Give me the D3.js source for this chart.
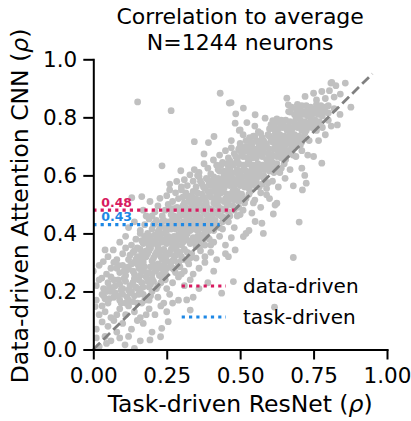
<!DOCTYPE html>
<html>
<head>
<meta charset="utf-8">
<script src="https://cdn.jsdelivr.net/npm/d3@7"></script>
<style>
    body { margin: 0; background: #fff; }
    svg { font-family: "DejaVu Sans", sans-serif; }
</style>
</head>
<body>
<svg id="svg4Scatter"></svg>
<script>
// neurons: [task-driven ResNet rho, data-driven attention CNN rho]
var neuronsLow = [
    [0.02,0.01],[0.045,0.021],[0.108,0.016],[0.14,0.004],[0.193,0.033],[0.229,0.044],[0.04,0.045],[0.09,0.04],[0.16,0.03],[0.06,0.03],[0.12,0.045],[0.01,0.04],
    [0.01,0.07],[0.05,0.08],[0.08,0.06],[0.13,0.07],[0.17,0.09],[0.233,0.073],[0.03,0.095],[0.1,0.09],[0.2,0.06],[0.15,0.1],[0.07,0.1],[0.255,0.096],
    [0.006,0.148],[0.02,0.12],[0.04,0.13],[0.06,0.11],[0.09,0.14],[0.11,0.12],[0.14,0.13],[0.16,0.11],[0.19,0.14],[0.21,0.12],[0.25,0.13],[0.03,0.15],[0.08,0.12],[0.12,0.15],[0.18,0.12],[0.23,0.15],[0.33,0.136],[0.617,0.146],
    [0.01,0.17],[0.03,0.19],[0.05,0.16],[0.07,0.18],[0.09,0.17],[0.1,0.19],[0.12,0.17],[0.13,0.2],[0.15,0.16],[0.17,0.19],[0.19,0.17],[0.2,0.2],[0.22,0.18],[0.24,0.16],[0.26,0.19],[0.29,0.17],[0.318,0.171],[0.06,0.2],[0.11,0.16],[0.14,0.185],[0.16,0.2],[0.437,0.194],[0.04,0.175],[0.27,0.16],[0.34,0.18],
    [0.01,0.22],[0.02,0.24],[0.035,0.21],[0.05,0.23],[0.06,0.25],[0.075,0.22],[0.085,0.24],[0.1,0.21],[0.11,0.235],[0.125,0.22],[0.14,0.245],[0.15,0.21],[0.165,0.23],[0.18,0.25],[0.19,0.215],[0.205,0.235],[0.22,0.22],[0.235,0.245],[0.25,0.21],[0.27,0.23],[0.29,0.25],[0.31,0.22],[0.33,0.24],[0.36,0.21],[0.39,0.23],[0.477,0.234],[0.029,0.246],
    [0.0,0.27],[0.02,0.29],[0.034,0.303],[0.045,0.26],[0.06,0.28],[0.07,0.3],[0.09,0.265],[0.1,0.29],[0.115,0.275],[0.13,0.295],[0.14,0.26],[0.155,0.28],[0.17,0.3],[0.18,0.265],[0.195,0.285],[0.21,0.27],[0.22,0.295],[0.235,0.26],[0.25,0.28],[0.265,0.3],[0.28,0.265],[0.295,0.285],[0.31,0.27],[0.325,0.295],[0.34,0.26],[0.36,0.28],[0.38,0.3],[0.41,0.27],[0.08,0.28],[0.16,0.29],[0.2,0.26],[0.24,0.29],[0.27,0.28]
];
var neuronsMid = [
    [0.04,0.343],[0.068,0.343],[0.05,0.32],[0.08,0.31],[0.1,0.33],[0.11,0.35],[0.12,0.31],[0.135,0.335],[0.15,0.32],[0.16,0.345],[0.17,0.31],[0.185,0.33],[0.195,0.35],[0.205,0.315],[0.215,0.335],[0.23,0.32],[0.24,0.345],[0.25,0.305],[0.26,0.33],[0.275,0.315],[0.285,0.34],[0.3,0.32],[0.31,0.345],[0.32,0.305],[0.335,0.33],[0.35,0.315],[0.365,0.34],[0.38,0.32],[0.4,0.335],[0.42,0.31],[0.45,0.33],[0.681,0.317],[0.14,0.3],[0.22,0.35],[0.29,0.3],[0.18,0.34],[0.483,0.343],[0.46,0.32],
    [0.09,0.37],[0.11,0.39],[0.13,0.36],[0.145,0.38],[0.16,0.4],[0.17,0.365],[0.18,0.385],[0.19,0.355],[0.2,0.375],[0.21,0.395],[0.22,0.36],[0.23,0.38],[0.24,0.4],[0.25,0.365],[0.26,0.385],[0.27,0.355],[0.28,0.375],[0.29,0.395],[0.3,0.36],[0.31,0.38],[0.32,0.4],[0.33,0.365],[0.34,0.385],[0.35,0.355],[0.36,0.375],[0.37,0.395],[0.38,0.36],[0.395,0.38],[0.41,0.37],[0.43,0.39],[0.45,0.36],[0.47,0.385],[0.511,0.389],[0.15,0.35],[0.245,0.38],[0.305,0.39],[0.579,0.4],[0.52,0.4],
    [0.12,0.42],[0.14,0.44],[0.16,0.41],[0.175,0.43],[0.19,0.45],[0.2,0.415],[0.21,0.435],[0.22,0.405],[0.23,0.425],[0.24,0.445],[0.25,0.41],[0.26,0.43],[0.27,0.45],[0.28,0.415],[0.29,0.435],[0.3,0.405],[0.31,0.425],[0.32,0.445],[0.33,0.41],[0.34,0.43],[0.35,0.45],[0.36,0.415],[0.37,0.435],[0.38,0.405],[0.39,0.425],[0.4,0.445],[0.41,0.41],[0.42,0.43],[0.44,0.415],[0.46,0.44],[0.48,0.42],[0.574,0.435],[0.701,0.439],[0.53,0.41],[0.185,0.4],[0.265,0.44],[0.355,0.43],[0.551,0.441],
    [0.2,0.46],[0.21,0.475],[0.22,0.495],[0.235,0.46],[0.245,0.48],[0.255,0.5],[0.265,0.465],[0.275,0.485],[0.285,0.455],[0.295,0.475],[0.305,0.495],[0.315,0.46],[0.325,0.48],[0.335,0.5],[0.345,0.465],[0.355,0.485],[0.365,0.455],[0.375,0.475],[0.385,0.495],[0.395,0.46],[0.405,0.48],[0.415,0.5],[0.425,0.465],[0.435,0.485],[0.445,0.455],[0.46,0.475],[0.475,0.495],[0.49,0.46],[0.51,0.48],[0.54,0.47],[0.57,0.49],[0.625,0.504],[0.18,0.46],[0.613,0.467],[0.619,0.498],[0.17,0.48],
    [0.131,0.523],[0.165,0.527],[0.193,0.51],[0.227,0.521],[0.25,0.53],[0.27,0.51],[0.28,0.54],[0.29,0.52],[0.3,0.55],[0.31,0.505],[0.32,0.53],[0.33,0.515],[0.34,0.545],[0.35,0.52],[0.36,0.505],[0.37,0.535],[0.38,0.515],[0.39,0.545],[0.4,0.525],[0.41,0.505],[0.42,0.535],[0.43,0.515],[0.44,0.545],[0.45,0.52],[0.46,0.505],[0.47,0.535],[0.48,0.515],[0.49,0.545],[0.5,0.52],[0.515,0.505],[0.53,0.535],[0.55,0.515],[0.57,0.54],[0.6,0.52],[0.26,0.55],[0.345,0.5],[0.425,0.55],[0.59,0.533]
];
var neuronsHigh = [
    [0.284,0.579],[0.329,0.602],[0.26,0.57],[0.3,0.56],[0.31,0.585],[0.32,0.565],[0.34,0.58],[0.35,0.56],[0.36,0.595],[0.37,0.57],[0.38,0.555],[0.39,0.585],[0.4,0.565],[0.41,0.595],[0.42,0.575],[0.43,0.555],[0.44,0.585],[0.45,0.565],[0.46,0.595],[0.47,0.575],[0.48,0.555],[0.49,0.585],[0.5,0.565],[0.51,0.595],[0.52,0.575],[0.53,0.555],[0.54,0.585],[0.55,0.565],[0.56,0.595],[0.575,0.57],[0.59,0.555],[0.61,0.58],[0.63,0.56],[0.681,0.564],[0.725,0.573],[0.355,0.6],[0.445,0.6],[0.72,0.6],[0.712,0.55],[0.653,0.59],
    [0.234,0.633],[0.298,0.616],[0.344,0.62],[0.377,0.64],[0.409,0.653],[0.36,0.61],[0.39,0.625],[0.4,0.605],[0.42,0.635],[0.43,0.615],[0.44,0.645],[0.45,0.61],[0.46,0.63],[0.47,0.605],[0.48,0.64],[0.49,0.62],[0.5,0.6],[0.51,0.635],[0.52,0.615],[0.53,0.645],[0.54,0.625],[0.55,0.605],[0.56,0.64],[0.57,0.62],[0.58,0.6],[0.59,0.635],[0.6,0.615],[0.61,0.645],[0.62,0.625],[0.635,0.61],[0.65,0.64],[0.67,0.62],[0.71,0.625],[0.778,0.642],[0.75,0.665],[0.465,0.65],[0.525,0.6],
    [0.377,0.674],[0.392,0.713],[0.344,0.716],[0.43,0.67],[0.45,0.685],[0.46,0.66],[0.47,0.695],[0.48,0.675],[0.49,0.655],[0.5,0.685],[0.51,0.665],[0.52,0.7],[0.53,0.68],[0.54,0.66],[0.55,0.69],[0.56,0.67],[0.57,0.7],[0.58,0.68],[0.59,0.655],[0.6,0.69],[0.61,0.67],[0.62,0.7],[0.63,0.68],[0.64,0.66],[0.65,0.69],[0.66,0.67],[0.675,0.695],[0.69,0.665],[0.71,0.685],[0.73,0.67],[0.5,0.7],
    [0.411,0.734],[0.532,0.73],[0.497,0.755],[0.47,0.72],[0.5,0.71],[0.51,0.74],[0.52,0.72],[0.54,0.705],[0.55,0.735],[0.56,0.715],[0.57,0.745],[0.58,0.72],[0.59,0.705],[0.6,0.735],[0.61,0.715],[0.62,0.745],[0.63,0.725],[0.64,0.705],[0.65,0.735],[0.66,0.715],[0.67,0.745],[0.68,0.725],[0.69,0.705],[0.7,0.735],[0.71,0.715],[0.72,0.745],[0.735,0.72],[0.767,0.72],[0.562,0.751],[0.79,0.74],
    [0.5,0.757],[0.483,0.78],[0.523,0.782],[0.585,0.797],[0.611,0.789],[0.831,0.774],[0.55,0.77],[0.6,0.76],[0.62,0.78],[0.63,0.76],[0.64,0.79],[0.65,0.77],[0.66,0.755],[0.67,0.785],[0.68,0.765],[0.69,0.795],[0.7,0.775],[0.71,0.755],[0.72,0.785],[0.73,0.765],[0.74,0.795],[0.75,0.775],[0.76,0.755],[0.77,0.785],[0.78,0.765],[0.8,0.79],[0.81,0.77],
    [0.485,0.812],[0.511,0.832],[0.551,0.809],[0.664,0.843],[0.67,0.818],[0.877,0.835],[0.69,0.83],[0.7,0.81],[0.71,0.84],[0.72,0.82],[0.73,0.805],[0.74,0.835],[0.75,0.815],[0.76,0.845],[0.77,0.825],[0.78,0.805],[0.79,0.835],[0.8,0.815],[0.82,0.83],[0.84,0.81],[0.463,0.849],[0.265,0.823],
    [0.151,0.853],[0.432,0.883],[0.469,0.851],[0.659,0.866],[0.721,0.872],[0.75,0.883],[0.778,0.889],[0.804,0.892],[0.809,0.918],[0.826,0.909],[0.858,0.918],[0.841,0.88],[0.812,0.92],[0.76,0.86],[0.79,0.865],[0.82,0.87]
];
// the solid band along the diagonal
var neuronsCore = [
    [0.035,0.185],[0.055,0.175],[0.075,0.195],[0.095,0.16],[0.115,0.18],[0.135,0.165],[0.155,0.19],[0.175,0.17],[0.195,0.185],[0.045,0.2],[0.085,0.185],[0.125,0.195],[0.165,0.16],
    [0.055,0.215],[0.07,0.24],[0.09,0.225],[0.105,0.245],[0.12,0.205],[0.135,0.23],[0.155,0.24],[0.17,0.215],[0.185,0.235],[0.2,0.245],[0.215,0.21],[0.23,0.23],[0.245,0.24],[0.065,0.205],[0.095,0.205],[0.145,0.215],[0.195,0.225],
    [0.085,0.29],[0.105,0.27],[0.12,0.285],[0.135,0.27],[0.15,0.295],[0.165,0.27],[0.175,0.285],[0.19,0.265],[0.205,0.29],[0.215,0.275],[0.23,0.28],[0.245,0.265],[0.26,0.285],[0.275,0.275],[0.29,0.295],[0.3,0.26],[0.11,0.255],[0.16,0.255],[0.225,0.255],
    [0.125,0.325],[0.14,0.34],[0.155,0.31],[0.165,0.33],[0.18,0.32],[0.19,0.34],[0.2,0.305],[0.21,0.325],[0.225,0.335],[0.235,0.31],[0.25,0.325],[0.265,0.345],[0.27,0.305],[0.28,0.325],[0.295,0.335],[0.305,0.31],[0.32,0.335],[0.33,0.315],[0.145,0.31],[0.245,0.335],
    [0.165,0.375],[0.175,0.39],[0.185,0.37],[0.195,0.39],[0.205,0.365],[0.215,0.38],[0.225,0.39],[0.235,0.37],[0.255,0.39],[0.265,0.37],[0.275,0.39],[0.285,0.36],[0.295,0.38],[0.305,0.37],[0.315,0.39],[0.325,0.375],[0.345,0.37],[0.355,0.39],[0.365,0.36],[0.375,0.38],[0.385,0.39],[0.4,0.36],
    [0.205,0.43],[0.215,0.445],[0.225,0.415],[0.235,0.44],[0.245,0.42],[0.255,0.44],[0.265,0.415],[0.275,0.43],[0.285,0.445],[0.295,0.415],[0.305,0.44],[0.315,0.41],[0.325,0.43],[0.335,0.445],[0.345,0.415],[0.355,0.41],[0.365,0.44],[0.375,0.42],[0.385,0.445],[0.395,0.41],[0.405,0.43],[0.415,0.445],[0.43,0.42],[0.44,0.44],
    [0.265,0.485],[0.275,0.46],[0.285,0.49],[0.295,0.46],[0.305,0.475],[0.315,0.49],[0.325,0.46],[0.335,0.475],[0.345,0.49],[0.355,0.46],[0.365,0.48],[0.375,0.495],[0.385,0.465],[0.395,0.485],[0.405,0.46],[0.415,0.475],[0.425,0.495],[0.435,0.46],[0.445,0.48],[0.455,0.495],[0.465,0.46],[0.48,0.48],[0.495,0.49],[0.5,0.465],
    [0.305,0.525],[0.315,0.54],[0.325,0.51],[0.335,0.53],[0.345,0.52],[0.355,0.54],[0.365,0.515],[0.375,0.525],[0.385,0.505],[0.395,0.53],[0.405,0.545],[0.415,0.52],[0.425,0.53],[0.435,0.54],[0.445,0.51],[0.455,0.535],[0.465,0.52],[0.475,0.545],[0.485,0.53],[0.495,0.51],[0.505,0.535],[0.52,0.52],[0.535,0.545],[0.545,0.505],
    [0.365,0.58],[0.375,0.56],[0.385,0.59],[0.395,0.57],[0.405,0.58],[0.415,0.56],[0.425,0.59],[0.435,0.57],[0.445,0.555],[0.455,0.58],[0.465,0.565],[0.475,0.59],[0.485,0.57],[0.495,0.6],[0.505,0.58],[0.515,0.56],[0.525,0.59],[0.535,0.57],[0.545,0.595],[0.555,0.58],[0.565,0.56],[0.58,0.59],[0.595,0.575],
    [0.425,0.62],[0.435,0.635],[0.445,0.615],[0.455,0.64],[0.465,0.62],[0.475,0.635],[0.485,0.61],[0.495,0.64],[0.505,0.615],[0.515,0.62],[0.525,0.64],[0.535,0.61],[0.545,0.635],[0.555,0.625],[0.565,0.605],[0.575,0.635],[0.585,0.62],[0.595,0.645],[0.605,0.625],[0.615,0.61],[0.625,0.64],[0.64,0.625],
    [0.485,0.665],[0.495,0.69],[0.505,0.67],[0.515,0.685],[0.525,0.66],[0.535,0.695],[0.545,0.675],[0.555,0.66],[0.565,0.685],[0.575,0.665],[0.585,0.695],[0.595,0.675],[0.605,0.66],[0.615,0.69],[0.625,0.665],[0.635,0.695],[0.645,0.675],[0.655,0.655],[0.665,0.685],[0.68,0.67],
    [0.535,0.715],[0.545,0.735],[0.555,0.72],[0.565,0.705],[0.575,0.73],[0.585,0.71],[0.595,0.74],[0.605,0.72],[0.615,0.73],[0.625,0.71],[0.635,0.74],[0.645,0.72],[0.655,0.705],[0.665,0.73],[0.675,0.71],[0.685,0.74],[0.695,0.72],[0.705,0.705],[0.715,0.73],
    [0.605,0.775],[0.615,0.76],[0.625,0.795],[0.635,0.78],[0.645,0.765],[0.655,0.79],[0.665,0.77],[0.675,0.755],[0.685,0.78],[0.695,0.765],[0.705,0.79],[0.715,0.77],[0.725,0.755],[0.735,0.78],[0.745,0.765],[0.755,0.79],[0.765,0.77],
    [0.665,0.82],[0.675,0.835],[0.685,0.81],[0.695,0.845],[0.705,0.825],[0.715,0.81],[0.725,0.84],[0.735,0.82],[0.745,0.81],[0.755,0.83],[0.765,0.81],[0.775,0.84],[0.785,0.82],[0.8,0.84]
];

var groupNames = ["data-driven", "task-driven"];
var groupMeans = [0.48, 0.43];
var xTicks = [0, 0.25, 0.5, 0.75, 1];
var yTicks = [0, 0.2, 0.4, 0.6, 0.8, 1];
var identityLine = [0, 0.95];
var titleLines = ["Correlation to average", "N=1244 neurons"];

var groupColors = ["#d81b60", "#1e88e5"];
var svgW = 411, svgH = 421;
var padding = { left: 93.3, right: 24, top: 59.3, bottom: 71.5 };
var fontSize = { title: 22, label: 23.5, tick: 21.5, legend: 20, mean: 12.5 };

var svg = d3.select("#svg4Scatter").attr("width", svgW).attr("height", svgH);
var xScale = d3.scaleLinear().domain([0, 1]).range([padding.left, svgW - padding.right]);
var yScale = d3.scaleLinear().domain([0, 1]).range([svgH - padding.bottom, padding.top]);

svg.append("clipPath").attr("id", "plotClip")
    .append("rect")
    .attr("x", xScale(0))
    .attr("y", yScale(1))
    .attr("width", xScale(1) - xScale(0))
    .attr("height", yScale(0) - yScale(1));

var allNeurons = neuronsLow.concat(neuronsMid, neuronsHigh, neuronsCore);
svg.append("g")
    .attr("clip-path", "url(#plotClip)")
    .selectAll("circle")
    .data(allNeurons)
    .enter()
    .append("circle")
    .attr("cx", function (d) { return xScale(d[0]); })
    .attr("cy", function (d) { return yScale(d[1]); })
    .attr("r", 3.4)
    .attr("fill", "#c0c0c0");

// identity line
svg.append("line")
    .attr("x1", xScale(identityLine[0]))
    .attr("y1", yScale(identityLine[0]))
    .attr("x2", xScale(identityLine[1]))
    .attr("y2", yScale(identityLine[1]))
    .attr("stroke", "#808080")
    .attr("stroke-width", 2.8)
    .attr("stroke-dasharray", "9.5,4.5");

// mean lines
groupMeans.forEach(function (m, i) {
    svg.append("line")
        .attr("x1", xScale(0))
        .attr("x2", xScale(m))
        .attr("y1", yScale(m))
        .attr("y2", yScale(m))
        .attr("stroke", groupColors[i])
        .attr("stroke-width", 3.2)
        .attr("stroke-dasharray", "3.2,4.1");
    svg.append("text")
        .attr("x", xScale(0.027))
        .attr("y", yScale(m) - 3.5)
        .attr("fill", groupColors[i])
        .attr("font-size", fontSize.mean)
        .attr("font-weight", "bold")
        .text(d3.format(".2f")(m));
});

var xAxis = d3.axisBottom(xScale)
    .tickValues(xTicks)
    .tickFormat(d3.format(".2f"))
    .tickSizeInner(10)
    .tickSizeOuter(0)
    .tickPadding(8);
var yAxis = d3.axisLeft(yScale)
    .tickValues(yTicks)
    .tickFormat(d3.format(".1f"))
    .tickSizeInner(10)
    .tickSizeOuter(0)
    .tickPadding(6);

var xAxisG = svg.append("g").attr("transform", "translate(0," + yScale(0) + ")").call(xAxis);
var yAxisG = svg.append("g").attr("transform", "translate(" + xScale(0) + ",0)").call(yAxis);
[xAxisG, yAxisG].forEach(function (g) {
    g.select(".domain").attr("stroke", "#000").attr("stroke-width", 2).attr("stroke-linecap", "square");
    g.selectAll(".tick line").attr("stroke", "#000").attr("stroke-width", 2);
    g.selectAll(".tick text")
        .attr("fill", "#000")
        .attr("font-family", "DejaVu Sans")
        .attr("font-size", fontSize.tick);
});

// axis labels
svg.append("text")
    .attr("x", (xScale(0) + xScale(1)) / 2)
    .attr("y", 412)
    .attr("text-anchor", "middle")
    .attr("font-size", fontSize.label)
    .html("Task-driven ResNet (<tspan font-style='italic'>ρ</tspan>)");

svg.append("text")
    .attr("transform", "translate(28," + ((yScale(0) + yScale(1)) / 2 + 1.5) + ") rotate(-90)")
    .attr("text-anchor", "middle")
    .attr("font-size", fontSize.label)
    .html("Data-driven Attention CNN (<tspan font-style='italic'>ρ</tspan>)");

svg.selectAll("text.title")
    .data(titleLines)
    .enter()
    .append("text")
    .attr("class", "title")
    .attr("x", (xScale(0) + xScale(1)) / 2)
    .attr("y", function (d, i) { return 24 + i * 26; })
    .attr("text-anchor", "middle")
    .attr("font-size", fontSize.title)
    .text(function (d) { return d; });

// legend
var legendG = svg.append("g");
groupNames.forEach(function (name, i) {
    var ly = 286 + i * 31;
    legendG.append("line")
        .attr("x1", 181.7)
        .attr("x2", 226)
        .attr("y1", ly)
        .attr("y2", ly)
        .attr("stroke", groupColors[i])
        .attr("stroke-width", 3.2)
        .attr("stroke-dasharray", "3.2,4.1");
    legendG.append("text")
        .attr("x", 243)
        .attr("y", ly + 6.5)
        .attr("font-size", fontSize.legend)
        .attr("fill", "#000")
        .text(name);
});
</script>
</body>
</html>
